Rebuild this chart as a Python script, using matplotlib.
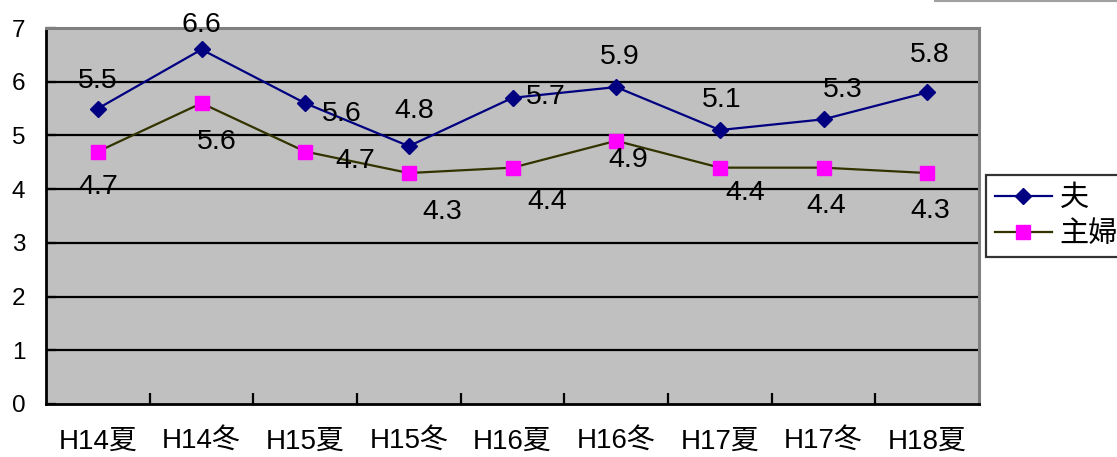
import matplotlib
matplotlib.use("Agg")
import matplotlib.pyplot as plt
from matplotlib.lines import Line2D
import numpy as np

plt.rcParams['font.family'] = ['Liberation Sans', 'Noto Sans CJK JP', 'DejaVu Sans']

# Survey periods and values
categories = ["H14夏", "H14冬", "H15夏", "H15冬", "H16夏", "H16冬", "H17夏", "H17冬", "H18夏"]
husband = [5.5, 6.6, 5.6, 4.8, 5.7, 5.9, 5.1, 5.3, 5.8]
housewife = [4.7, 5.6, 4.7, 4.3, 4.4, 4.9, 4.4, 4.4, 4.3]
series_names = ["夫", "主婦"]

# Label offsets (pixels) relative to each point
husband_offsets = [(0, 28), (0, 24), (37, -11), (5, 35), (33, 1), (4, 30), (2, 30), (19, 29), (3, 37)]
housewife_offsets = [(0, -35), (15, -39), (50, -9), (33, -39), (35, -34), (12, -19), (25, -25), (3, -38), (3, -38)]

W, H = 1117, 457
fig = plt.figure(figsize=(W / 100, H / 100), dpi=100)
ax = fig.add_axes([46 / W, (H - 404) / H, (979 - 46) / W, (404 - 28) / H])
ax.set_facecolor("#C0C0C0")

x = np.arange(len(categories))
ax.plot(x, husband, color="#000080", lw=1.6, marker="D", ms=7.8,
        mfc="#000080", mec="#000080", label=series_names[0], zorder=4)
ax.plot(x, housewife, color="#333300", lw=1.6, marker="s", ms=10.5,
        mfc="#FF00FF", mec="#FF00FF", label=series_names[1], zorder=4)

for xi, v, off in zip(x, husband, husband_offsets):
    ax.annotate(f"{v:.1f}", (xi, v), xytext=off, textcoords="offset pixels",
                ha="center", va="center", fontsize=20.5, color="black", zorder=5)
for xi, v, off in zip(x, housewife, housewife_offsets):
    ax.annotate(f"{v:.1f}", (xi, v), xytext=off, textcoords="offset pixels",
                ha="center", va="center", fontsize=20.5, color="black", zorder=5)

ax.set_xlim(-0.5, len(categories) - 0.5)
ax.set_ylim(0, 7)

# Horizontal gridlines
for yv in range(1, 7):
    ax.axhline(yv, color="black", lw=1.6, zorder=1)

ax.set_yticks(range(0, 8))
ax.tick_params(axis="y", direction="in", length=7, width=1.6, pad=15, labelsize=17.5)
ax.set_xticks(x)
ax.set_xticklabels(categories)
ax.tick_params(axis="x", which="major", length=0, pad=18, labelsize=20)
ax.set_xticks(np.arange(0.5, len(categories) - 0.5), minor=True)
ax.tick_params(axis="x", which="minor", direction="in", length=8, width=1.6)

ax.spines["left"].set_color("black")
ax.spines["bottom"].set_color("black")
ax.spines["left"].set_linewidth(2)
ax.spines["bottom"].set_linewidth(2)
ax.spines["top"].set_color("#808080")
ax.spines["right"].set_color("#808080")
ax.spines["top"].set_linewidth(2.2)
ax.spines["right"].set_linewidth(2.2)

leg = fig.legend(loc="upper left", bbox_to_anchor=(986 / W, 1 - 175 / H),
                 fontsize=21, frameon=True, fancybox=False, edgecolor="black",
                 handlelength=1.95, handletextpad=0.28, borderpad=0.3,
                 labelspacing=0.3, borderaxespad=0)
leg.get_frame().set_linewidth(1.6)

# Thin frame fragment at the top right edge
fig.add_artist(Line2D([935 / W, 1.0], [1 - 1 / H, 1 - 1 / H], color="#A0A0A0", lw=1.5,
                      transform=fig.transFigure))

fig.savefig("out.png", dpi=100)
